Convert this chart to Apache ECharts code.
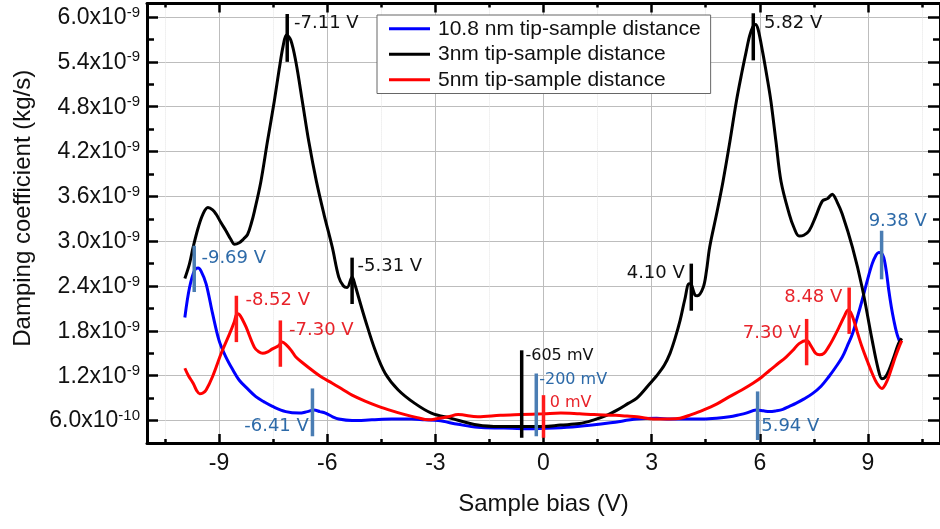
<!DOCTYPE html>
<html><head><meta charset="utf-8">
<script src="https://cdn.jsdelivr.net/npm/echarts@6/dist/echarts.min.js"></script>
<style>html,body{margin:0;padding:0;background:#fff}#c{width:940px;height:529px}</style>
</head><body><div id="c"></div>
<script>
// Damping values are in units of 1e-9 kg/s
const seriesNames = ['10.8 nm tip-sample distance', '3nm tip-sample distance', '5nm tip-sample distance'];

const bias_108nm = [-9.95,-9.82,-9.68,-9.58,-9.50,-9.36,-9.18,-9.00,-8.81,-8.62,-8.44,-8.20,-7.98,-7.75,-7.52,-7.15,-6.78,-6.55,-6.37,-6.20,-6.05,-5.85,-5.68,-5.31,-4.76,-4.21,-3.66,-3.30,-2.92,-2.37,-1.82,-1.10,-0.44,0.30,0.94,1.86,2.59,3.14,3.51,4.00,4.43,4.80,5.16,5.45,5.62,5.90,6.10,6.27,6.45,6.64,6.82,7.00,7.23,7.46,7.70,7.92,8.10,8.29,8.43,8.57,8.70,8.84,8.98,9.12,9.22,9.30,9.38,9.44,9.51,9.58,9.65,9.72,9.80,9.90];
const damping_108nm = [1.98,2.38,2.61,2.64,2.60,2.43,2.03,1.67,1.45,1.28,1.14,1.02,0.92,0.85,0.79,0.72,0.70,0.72,0.74,0.72,0.70,0.65,0.62,0.60,0.61,0.62,0.62,0.61,0.60,0.55,0.51,0.50,0.49,0.50,0.52,0.57,0.62,0.63,0.62,0.62,0.62,0.63,0.65,0.68,0.70,0.74,0.73,0.72,0.73,0.75,0.79,0.83,0.89,0.96,1.06,1.19,1.31,1.45,1.60,1.76,1.97,2.21,2.47,2.70,2.81,2.85,2.84,2.78,2.60,2.34,2.12,1.94,1.77,1.63];

const bias_3nm = [-9.95,-9.82,-9.72,-9.58,-9.45,-9.31,-9.18,-9.08,-8.95,-8.81,-8.68,-8.57,-8.44,-8.32,-8.21,-8.10,-8.02,-7.84,-7.66,-7.47,-7.33,-7.22,-7.13,-7.01,-6.87,-6.69,-6.51,-6.30,-6.09,-5.86,-5.68,-5.55,-5.45,-5.31,-5.22,-5.13,-4.94,-4.67,-4.39,-4.03,-3.57,-3.11,-2.56,-1.82,-1.20,-0.63,0.00,0.47,1.00,1.40,1.75,2.04,2.35,2.59,2.96,3.14,3.35,3.51,3.65,3.79,3.92,4.04,4.10,4.20,4.27,4.43,4.52,4.61,4.80,4.98,5.17,5.35,5.50,5.62,5.72,5.81,5.88,5.95,6.08,6.20,6.31,6.45,6.59,6.82,6.95,7.09,7.22,7.37,7.55,7.74,7.88,8.01,8.15,8.29,8.57,8.84,9.12,9.28,9.39,9.48,9.58,9.72,9.85,9.94];
const damping_3nm = [2.50,2.70,2.92,3.18,3.36,3.45,3.42,3.36,3.25,3.14,3.03,2.96,2.98,3.03,3.09,3.25,3.40,3.80,4.33,4.87,5.31,5.62,5.76,5.69,5.40,4.87,4.33,3.80,3.36,2.92,2.52,2.40,2.38,2.52,2.40,2.25,1.94,1.54,1.23,1.01,0.83,0.70,0.63,0.54,0.52,0.52,0.52,0.54,0.56,0.61,0.67,0.74,0.83,0.90,1.10,1.20,1.34,1.50,1.70,1.94,2.22,2.43,2.42,2.28,2.27,2.38,2.60,2.92,3.36,3.80,4.33,4.87,5.25,5.53,5.75,5.87,5.90,5.84,5.53,5.20,4.87,4.33,3.80,3.36,3.18,3.07,3.08,3.14,3.33,3.54,3.57,3.63,3.52,3.36,2.92,2.38,1.67,1.30,1.16,1.18,1.27,1.45,1.63,1.70];

const bias_5nm = [-9.95,-9.85,-9.72,-9.62,-9.54,-9.45,-9.36,-9.18,-8.94,-8.71,-8.58,-8.50,-8.44,-8.35,-8.25,-8.02,-7.90,-7.79,-7.65,-7.52,-7.35,-7.25,-7.15,-7.00,-6.87,-6.65,-6.41,-6.15,-5.86,-5.55,-5.31,-4.95,-4.58,-4.20,-3.84,-3.50,-3.20,-2.90,-2.65,-2.37,-1.82,-1.20,-0.63,0.00,0.48,1.00,1.40,2.00,2.32,2.59,2.87,3.14,3.50,3.79,4.10,4.43,4.80,5.16,5.50,5.81,6.05,6.27,6.50,6.73,6.92,7.09,7.30,7.42,7.55,7.66,7.78,7.90,8.01,8.20,8.35,8.45,8.52,8.61,8.72,8.84,8.98,9.12,9.25,9.39,9.48,9.58,9.67,9.76,9.86,9.94];
const damping_5nm = [1.30,1.20,1.10,1.00,0.96,0.97,1.01,1.19,1.50,1.76,1.92,2.03,2.02,1.95,1.85,1.58,1.52,1.50,1.52,1.56,1.60,1.65,1.62,1.54,1.45,1.36,1.27,1.18,1.10,1.01,0.94,0.86,0.79,0.73,0.68,0.64,0.61,0.63,0.65,0.68,0.65,0.67,0.68,0.69,0.70,0.69,0.68,0.67,0.66,0.65,0.63,0.62,0.62,0.63,0.68,0.74,0.82,0.92,1.01,1.10,1.18,1.27,1.36,1.45,1.54,1.63,1.67,1.60,1.50,1.48,1.50,1.58,1.67,1.85,2.00,2.08,2.05,1.94,1.76,1.58,1.40,1.23,1.10,1.03,1.08,1.19,1.32,1.45,1.58,1.67];

// axis ticks
const xMajorTicks = [-9, -6, -3, 0, 3, 6, 9];
const xMinorTicks = [-10.5, -7.5, -4.5, -1.5, 1.5, 4.5, 7.5, 10.5];
const yMajorTicks = [0.6, 1.2, 1.8, 2.4, 3.0, 3.6, 4.2, 4.8, 5.4, 6.0];
const yMinorTicks = [0.9, 1.5, 2.1, 2.7, 3.3, 3.9, 4.5, 5.1, 5.7];
const yTickMantissa = ['6.0', '1.2', '1.8', '2.4', '3.0', '3.6', '4.2', '4.8', '5.4', '6.0'];
const yTickExponent = ['-10', '-9', '-9', '-9', '-9', '-9', '-9', '-9', '-9', '-9'];

// peak markers
const markerBias = [-7.11, 5.82, -5.31, 4.10, -0.605, -0.2, 0, -9.69, -6.41, 9.38, 5.94, -8.52, -7.30, 7.30, 8.48];
const markerLow  = [5.40, 5.42, 2.16, 2.07, 0.37, 0.39, 0.37, 2.32, 0.39, 2.49, 0.34, 1.65, 1.32, 1.34, 1.76];
const markerHigh = [6.04, 6.05, 2.78, 2.70, 1.54, 1.23, 0.94, 2.94, 1.03, 3.14, 0.99, 2.27, 1.94, 1.96, 2.38];
const markerText = ['-7.11 V','5.82 V','-5.31 V','4.10 V','-605 mV','-200 mV','0 mV','-9.69 V','-6.41 V','9.38 V','5.94 V','-8.52 V','-7.30 V','7.30 V','8.48 V'];
const markerGroup = [1,1,1,1,1,0,2,0,0,0,0,2,2,2,2];
const labelBias    = [-6.92, 6.12, -5.16, 3.92, -0.50, -0.12, 0.17, -9.49, -6.51, 9.02, 6.04, -8.27, -7.06, 7.14, 8.29];
const labelDamping = [5.92, 5.92, 2.67, 2.57, 1.47, 1.14, 0.84, 2.77, 0.52, 3.27, 0.52, 2.21, 1.81, 1.77, 2.25];
const labelAlign   = ['left','left','left','right','left','left','left','left','right','left','left','left','left','right','right'];

const lineColors = ['#0000ff', '#000000', '#ff0000'];
const markerColors = ['#4a7db3', '#000000', '#ff1a1a'];
const labelColors = ['#2d6aa8', '#111111', '#e8232a'];
const FONT = 'Liberation Sans, Arial, sans-serif';

function zip(a, b) { return a.map((v, i) => [v, b[i]]); }

const chart = echarts.init(document.getElementById('c'));

const baseX = { type: 'value', min: -11, max: 11, gridIndex: 0 };
const baseY = { type: 'value', min: 0.3, max: 6.18, gridIndex: 0 };
const tickStyle = { color: '#000', width: 2.5 };

const option = {
  backgroundColor: '#fff',
  animation: false,
  grid: { left: 147, right: -5, top: 1.5, bottom: 86, containLabel: false },
  legend: {
    data: seriesNames,
    orient: 'vertical',
    left: 377, top: 15,
    backgroundColor: '#fff',
    borderColor: '#666', borderWidth: 1,
    padding: [1, 10, 1, 12],
    itemGap: 0,
    itemWidth: 41, itemHeight: 3,
    icon: 'rect',
    textStyle: { fontFamily: FONT, fontSize: 21, color: '#111', lineHeight: 25.5, padding: [0, 0, 0, 3] }
  },
  xAxis: [
    Object.assign({}, baseX, {
      position: 'bottom',
      axisLine: { onZero: false, lineStyle: { color: '#000', width: 3 } },
      axisTick: { inside: true, length: 9, customValues: xMajorTicks, lineStyle: tickStyle },
      axisLabel: { customValues: xMajorTicks, fontFamily: FONT, fontSize: 23, color: '#111', margin: 9 },
      splitLine: { show: true, lineStyle: { color: '#bdbdbd', width: 1 } },
      name: 'Sample bias (V)', nameLocation: 'middle', nameGap: 49,
      nameTextStyle: { fontFamily: FONT, fontSize: 24, color: '#111' }
    }),
    Object.assign({}, baseX, {
      position: 'bottom',
      axisLine: { show: false, onZero: false },
      axisTick: { inside: true, length: 4, customValues: xMinorTicks, lineStyle: tickStyle },
      axisLabel: { show: false },
      splitLine: { show: true, lineStyle: { color: '#e4e4e4', width: 1, type: 'dotted' } }
    }),
    Object.assign({}, baseX, {
      position: 'top',
      axisLine: { onZero: false, lineStyle: { color: '#000', width: 3 } },
      axisTick: { inside: true, length: 9, customValues: xMajorTicks, lineStyle: tickStyle },
      axisLabel: { show: false },
      splitLine: { show: false }
    }),
    Object.assign({}, baseX, {
      position: 'top',
      axisLine: { show: false, onZero: false },
      axisTick: { inside: true, length: 4, customValues: xMinorTicks, lineStyle: tickStyle },
      axisLabel: { show: false },
      splitLine: { show: false }
    })
  ],
  yAxis: [
    Object.assign({}, baseY, {
      position: 'left',
      axisLine: { onZero: false, lineStyle: { color: '#000', width: 3 } },
      axisTick: { inside: true, length: 11, customValues: yMajorTicks, lineStyle: tickStyle },
      axisLabel: {
        customValues: yMajorTicks, margin: 7,
        formatter: function (v) {
          let i = yMajorTicks.findIndex(t => Math.abs(t - v) < 1e-6);
          if (i < 0) return '';
          return '{m|' + yTickMantissa[i] + 'x10}{e|' + yTickExponent[i] + '}';
        },
        rich: {
          m: { fontFamily: FONT, fontSize: 23, color: '#111', lineHeight: 24, padding: [6, 0, 0, 0], verticalAlign: 'bottom' },
          e: { fontFamily: FONT, fontSize: 15, color: '#111', lineHeight: 15, verticalAlign: 'top' }
        }
      },
      splitLine: { show: true, lineStyle: { color: '#bdbdbd', width: 1 } },
      name: 'Damping coefficient (kg/s)', nameLocation: 'middle', nameGap: 112,
      nameTextStyle: { fontFamily: FONT, fontSize: 24, color: '#111', padding: [0, 0, 0, 30] }
    }),
    Object.assign({}, baseY, {
      position: 'left',
      axisLine: { show: false, onZero: false },
      axisTick: { inside: true, length: 7, customValues: yMinorTicks, lineStyle: tickStyle },
      axisLabel: { show: false },
      splitLine: { show: false }
    }),
    Object.assign({}, baseY, {
      position: 'right',
      axisLine: { onZero: false, lineStyle: { color: '#000', width: 3 } },
      axisTick: { inside: true, length: 12, customValues: yMajorTicks, lineStyle: tickStyle },
      axisLabel: { show: false },
      splitLine: { show: false }
    }),
    Object.assign({}, baseY, {
      position: 'right',
      axisLine: { show: false, onZero: false },
      axisTick: { inside: true, length: 7, customValues: yMinorTicks, lineStyle: tickStyle },
      axisLabel: { show: false },
      splitLine: { show: false }
    })
  ],
  series: [
    { name: seriesNames[0], type: 'line', xAxisIndex: 0, yAxisIndex: 0, data: zip(bias_108nm, damping_108nm),
      showSymbol: false, symbol: 'none', smooth: 0.35, lineStyle: { color: lineColors[0], width: 3 }, itemStyle: { color: lineColors[0] } },
    { name: seriesNames[1], type: 'line', xAxisIndex: 0, yAxisIndex: 0, data: zip(bias_3nm, damping_3nm),
      showSymbol: false, symbol: 'none', smooth: 0.35, lineStyle: { color: lineColors[1], width: 3 }, itemStyle: { color: lineColors[1] } },
    { name: seriesNames[2], type: 'line', xAxisIndex: 0, yAxisIndex: 0, data: zip(bias_5nm, damping_5nm),
      showSymbol: false, symbol: 'none', smooth: 0.35, lineStyle: { color: lineColors[2], width: 3 }, itemStyle: { color: lineColors[2] } },
    {
      name: 'markers', type: 'custom', xAxisIndex: 0, yAxisIndex: 0, z: 5, clip: false,
      data: markerBias.map((b, i) => [b, markerLow[i], markerHigh[i], labelBias[i], labelDamping[i], i]),
      encode: { x: [0, 3], y: [1, 2, 4] },
      renderItem: function (params, api) {
        const i = api.value(5);
        const p1 = api.coord([api.value(0), api.value(1)]);
        const p2 = api.coord([api.value(0), api.value(2)]);
        const lp = api.coord([api.value(3), api.value(4)]);
        const g = markerGroup[i];
        const txt = markerText[i];
        const fs = txt.indexOf('mV') >= 0 ? 16 : 18;
        return { type: 'group', children: [
          { type: 'line', shape: { x1: p1[0], y1: p1[1], x2: p2[0], y2: p2[1] }, style: { stroke: markerColors[g], lineWidth: 3.5 } },
          { type: 'text', x: lp[0], y: lp[1], style: { text: txt, fill: labelColors[g], font: fs + 'px "DejaVu Sans"', align: labelAlign[i], verticalAlign: 'middle' } }
        ] };
      }
    }
  ]
};
chart.setOption(option);
</script></body></html>
